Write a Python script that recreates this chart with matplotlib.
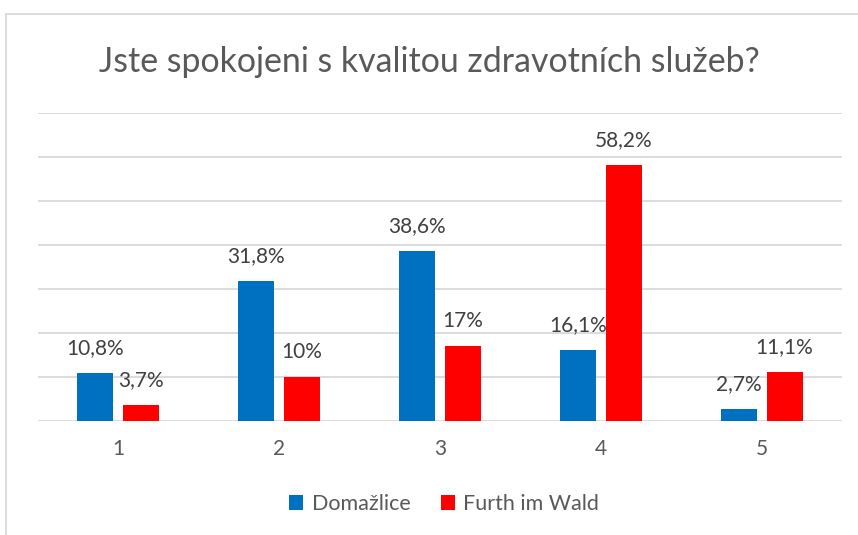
import matplotlib
matplotlib.use("Agg")
import matplotlib.pyplot as plt
import numpy as np
from matplotlib.patches import Rectangle

categories = ["1", "2", "3", "4", "5"]
domazlice = [10.8, 31.8, 38.6, 16.1, 2.7]
furth = [3.7, 10.0, 17.0, 58.2, 11.1]
domazlice_labels = ["10,8%", "31,8%", "38,6%", "16,1%", "2,7%"]
furth_labels = ["3,7%", "10%", "17%", "58,2%", "11,1%"]
series_names = ["Domažlice", "Furth im Wald"]
title = "Jste spokojeni s kvalitou zdravotních služeb?"

plt.rcParams['font.family'] = ['Lato', 'DejaVu Sans']

W, H = 858, 535
fig = plt.figure(figsize=(W / 100, H / 100), dpi=100)
fig.patch.set_facecolor("white")

# outer chart frame
fig.patches.append(Rectangle((5.5 / W, -0.1), 1.2, 1 - 13.5 / H + 0.1,
                             transform=fig.transFigure, fill=False,
                             edgecolor="#d9d9d9", linewidth=1.3, clip_on=False))

ax = fig.add_axes([38 / W, 1 - 421 / H, 804 / W, (421 - 113) / H])
x = np.arange(len(categories))
bw = 0.225
off = 0.143
blue = "#0070C0"
red = "#FF0000"
b1 = ax.bar(x - off, domazlice, bw, color=blue, label=series_names[0], zorder=3)
b2 = ax.bar(x + off, furth, bw, color=red, label=series_names[1], zorder=3)

for rect, lab in zip(b1, domazlice_labels):
    ax.annotate(lab, (rect.get_x() + rect.get_width() / 2, rect.get_height()),
                xytext=(0, 18), textcoords="offset points", ha="center", va="center",
                fontsize=15, color="#404040")
for rect, lab in zip(b2, furth_labels):
    ax.annotate(lab, (rect.get_x() + rect.get_width() / 2, rect.get_height()),
                xytext=(0, 18), textcoords="offset points", ha="center", va="center",
                fontsize=15, color="#404040")

ax.set_xlim(-0.5, len(categories) - 0.5)
ax.set_ylim(0, 70)
ax.set_yticks(np.arange(0, 71, 10))
ax.yaxis.grid(True, color="#d9d9d9", linewidth=1.3, zorder=0)
ax.set_yticklabels([])
ax.tick_params(axis="y", length=0)
ax.set_xticks(x)
ax.set_xticklabels(categories, fontsize=15, color="#595959")
ax.tick_params(axis="x", length=0, pad=13)
for s in ax.spines.values():
    s.set_visible(False)

fig.text(0.5, 1 - 62 / H, title, ha="center", va="center", fontsize=24.4, color="#595959")

fig.legend(handles=[b1, b2], labels=series_names, loc="center",
           bbox_to_anchor=(444 / W, 1 - 504 / H), ncol=2, frameon=False,
           fontsize=15.5, labelcolor="#595959", handlelength=0.65, handleheight=0.65,
           handletextpad=0.4, columnspacing=1.4)

fig.savefig("out.png", dpi=100, facecolor="white")
